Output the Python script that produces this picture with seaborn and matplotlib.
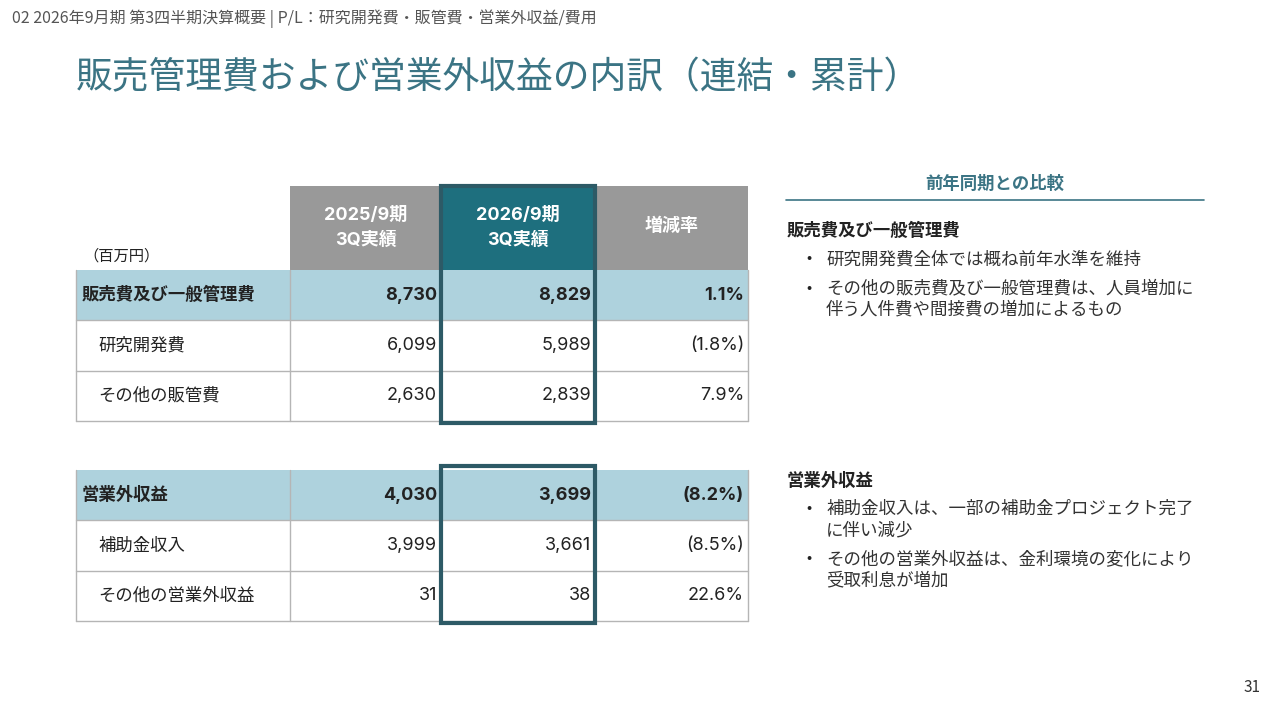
import matplotlib
matplotlib.use("Agg")
import matplotlib.pyplot as plt
from matplotlib.patches import Rectangle
import seaborn as sns

# Data
units = "（百万円）"
col_headers = ["2025/9期\n3Q実績", "2026/9期\n3Q実績", "増減率"]
sga_labels = ["販売費及び一般管理費", "研究開発費", "その他の販管費"]
sga_prev = [8730, 6099, 2630]
sga_curr = [8829, 5989, 2839]
sga_rate = [1.1, -1.8, 7.9]
nonop_labels = ["営業外収益", "補助金収入", "その他の営業外収益"]
nonop_prev = [4030, 3999, 31]
nonop_curr = [3699, 3661, 38]
nonop_rate = [-8.2, -8.5, 22.6]

breadcrumb = "02 2026年9月期 第3四半期決算概要 | P/L：研究開発費・販管費・営業外収益/費用"
title = "販売管理費および営業外収益の内訳（連結・累計）"
panel_title = "前年同期との比較"
notes_sga = ["研究開発費全体では概ね前年水準を維持",
             "その他の販売費及び一般管理費は、人員増加に\n伴う人件費や間接費の増加によるもの"]
notes_nonop = ["補助金収入は、一部の補助金プロジェクト完了\nに伴い減少",
               "その他の営業外収益は、金利環境の変化により\n受取利息が増加"]
page_no = "31"

# Style
sns.set_theme(style="white")
plt.rcParams['font.family'] = ['Noto Sans CJK JP', 'DejaVu Sans']
NUM_FONT = ['Inter', 'Noto Sans CJK JP']

TEAL = "#3b7484"
HEAD_GRAY = "#999999"
HEAD_TEAL = "#1e6f7e"
ROW_BLUE = "#aed2dd"
BOX = "#2d5a66"
GRID = "#b5b5b5"
TXT = "#222222"

col_edges = [76, 290, 441, 595, 748]


def fmt_rate(v):
    return f"({abs(v):.1f}%)" if v < 0 else f"{v:.1f}%"


fig = plt.figure(figsize=(12.8, 7.2), dpi=100)
ax = fig.add_axes([0, 0, 1, 1])
ax.set_xlim(0, 1280)
ax.set_ylim(720, 0)
ax.axis("off")

# Header texts
ax.text(12, 19, breadcrumb, fontsize=11.5, color="#555555", va="center", ha="left")
ax.text(76, 78, title, fontsize=26.5, color=TEAL, va="center", ha="left")
ax.text(1261, 688, page_no, fontsize=11, color="#333333", va="center", ha="right")

# Column header cells
head_top, head_bot = 186, 270
for i, h in enumerate(col_headers):
    x0, x1 = col_edges[i + 1], col_edges[i + 2]
    color = HEAD_TEAL if i == 1 else HEAD_GRAY
    ax.add_patch(Rectangle((x0, head_top), x1 - x0, head_bot - head_top,
                           facecolor=color, edgecolor="none"))
    lines = h.split("\n")
    if len(lines) == 1:
        ys = [226]
    else:
        ys = [215, 240]
    for ln, y in zip(lines, ys):
        ax.text((x0 + x1) / 2, y, ln, fontsize=13, fontweight="bold", color="white",
                ha="center", va="center", family=NUM_FONT)
ax.text(83, 256, units, fontsize=11, color=TXT, ha="left", va="center")


def draw_table(top, labels, prev, curr, rate):
    row_h = 50.3
    for r, lab in enumerate(labels):
        y0 = top + r * row_h
        yc = y0 + row_h / 2
        bold = r == 0
        if bold:
            ax.add_patch(Rectangle((col_edges[0], y0), col_edges[-1] - col_edges[0], row_h,
                                   facecolor=ROW_BLUE, edgecolor="none"))
        fw = "bold" if bold else "normal"
        ax.text(col_edges[0] + (6 if bold else 22), yc, lab, fontsize=12.5,
                fontweight=fw, color=TXT, ha="left", va="center")
        vals = [f"{prev[r]:,}", f"{curr[r]:,}", fmt_rate(rate[r])]
        for c, v in enumerate(vals):
            ax.text(col_edges[c + 2] - 4, yc, v, fontsize=13, fontweight=fw,
                    color=TXT, ha="right", va="center", family=NUM_FONT)
        # row bottom line
        ax.plot([col_edges[0], col_edges[-1]], [y0 + row_h, y0 + row_h],
                color=GRID, lw=1, zorder=2)
    bottom = top + row_h * len(labels)
    for x in col_edges:
        ax.plot([x, x], [top, bottom], color=GRID, lw=1, zorder=2)
    return bottom


b1 = draw_table(270, sga_labels, sga_prev, sga_curr, sga_rate)
b2 = draw_table(470, nonop_labels, nonop_prev, nonop_curr, nonop_rate)

# Highlight boxes around current-year column
ax.add_patch(Rectangle((col_edges[2], head_top), col_edges[3] - col_edges[2], b1 + 2 - head_top,
                       facecolor="none", edgecolor=BOX, lw=3, zorder=5))
ax.add_patch(Rectangle((col_edges[2], 466), col_edges[3] - col_edges[2], b2 + 2 - 466,
                       facecolor="none", edgecolor=BOX, lw=3, zorder=5))

# Right-hand commentary panel
ax.text(995, 184, panel_title, fontsize=12.5, fontweight="bold", color=TEAL,
        ha="center", va="center")
ax.plot([786, 1204], [200, 200], color=TEAL, lw=1.2)


def draw_notes(y_head, head, notes, y_first):
    ax.text(787, y_head, head, fontsize=12.5, fontweight="bold", color=TXT,
            ha="left", va="center")
    y = y_first
    for n in notes:
        ax.text(806, y, "•", fontsize=11, color=TXT, ha="left", va="center")
        for ln in n.split("\n"):
            ax.text(826, y, ln, fontsize=12.6, color="#333333", ha="left", va="center")
            y += 21
        y += 8


draw_notes(231, "販売費及び一般管理費", notes_sga, 259)
draw_notes(481, "営業外収益", notes_nonop, 509)

fig.savefig("out.png", dpi=100)
